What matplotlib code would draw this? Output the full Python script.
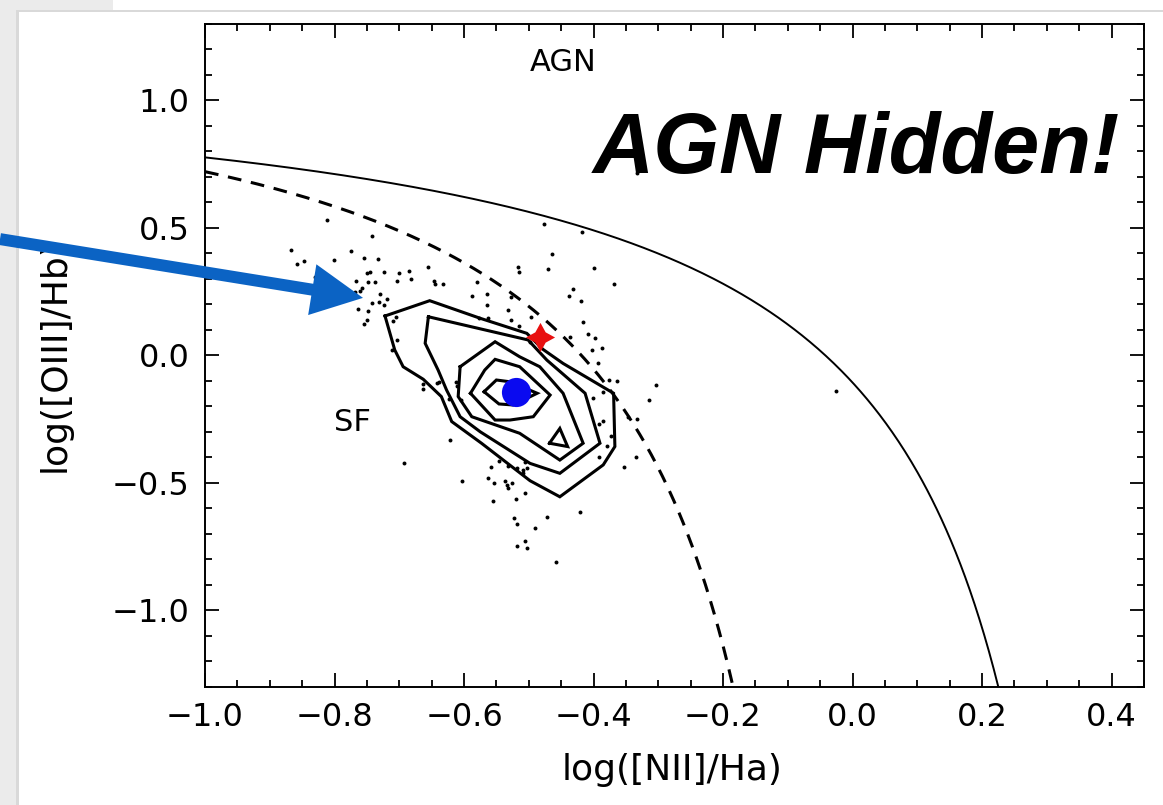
import matplotlib
matplotlib.use('Agg')
import matplotlib.pyplot as plt
from matplotlib.patches import Rectangle
from matplotlib.ticker import MultipleLocator
import numpy as np

# demarcation curves: y = a / (x - b) + c
kewley = (0.61, 0.47, 1.19)
kauffmann = (0.61, 0.05, 1.30)

# individual galaxies (log NII/Ha, log OIII/Hb)
dots_x = [-0.812, -0.867, -0.858, -0.847, -0.830, -0.801, -0.775, -0.754, -0.733, -0.742,
          -0.750, -0.745, -0.724, -0.700, -0.685, -0.656, -0.748, -0.738, -0.767, -0.704,
          -0.682, -0.646, -0.645, -0.632, -0.758, -0.761, -0.730, -0.742, -0.731, -0.719,
          -0.724, -0.764, -0.748, -0.750, -0.754, -0.705, -0.710, -0.704, -0.711, -0.476,
          -0.418, -0.464, -0.517, -0.515, -0.470, -0.399, -0.368, -0.580, -0.432, -0.438,
          -0.419, -0.588, -0.565, -0.527, -0.565, -0.532, -0.497, -0.527, -0.515, -0.416,
          -0.409, -0.398, -0.436, -0.402, -0.387, -0.577, -0.563, -0.498, -0.376, -0.364,
          -0.304, -0.314, -0.385, -0.347, -0.333, -0.333, -0.393, -0.401, -0.026, -0.392,
          -0.385, -0.373, -0.379, -0.392, -0.334, -0.353, -0.506, -0.503, -0.509, -0.509,
          -0.506, -0.421, -0.472, -0.490, -0.506, -0.503, -0.458, -0.663, -0.642, -0.639,
          -0.612, -0.611, -0.663, -0.623, -0.605, -0.622, -0.603, -0.558, -0.546, -0.532,
          -0.518, -0.563, -0.554, -0.537, -0.534, -0.532, -0.526, -0.555, -0.520, -0.523,
          -0.518, -0.518, -0.693, -0.768]
dots_y = [0.529, 0.412, 0.357, 0.369, 0.306, 0.373, 0.408, 0.380, 0.376, 0.467,
          0.322, 0.325, 0.325, 0.322, 0.329, 0.345, 0.286, 0.286, 0.290, 0.290,
          0.298, 0.290, 0.278, 0.278, 0.263, 0.251, 0.239, 0.204, 0.208, 0.220,
          0.196, 0.180, 0.173, 0.137, 0.122, 0.149, 0.133, 0.059, 0.020, 0.514,
          0.482, 0.396, 0.345, 0.325, 0.337, 0.341, 0.278, 0.286, 0.259, 0.231,
          0.212, 0.231, 0.239, 0.227, 0.196, 0.176, 0.149, 0.137, 0.114, 0.129,
          0.082, 0.067, 0.071, 0.020, 0.027, 0.145, 0.145, 0.051, -0.098, -0.102,
          -0.118, -0.176, -0.145, -0.243, -0.251, 0.714, -0.031, -0.169, -0.141, -0.271,
          -0.259, -0.318, -0.357, -0.400, -0.400, -0.439, -0.420, -0.443, -0.451, -0.463,
          -0.541, -0.616, -0.635, -0.678, -0.729, -0.757, -0.812, -0.114, -0.110, -0.106,
          -0.106, -0.122, -0.133, -0.173, -0.176, -0.333, -0.494, -0.439, -0.416, -0.435,
          -0.443, -0.482, -0.502, -0.494, -0.510, -0.522, -0.502, -0.573, -0.565, -0.639,
          -0.663, -0.749, -0.424, 0.247]

# density contours, outer to inner
contour1_x = [-0.722, -0.653, -0.575, -0.503, -0.478, -0.447, -0.369, -0.367, -0.385, -0.452,
              -0.498, -0.573, -0.619, -0.635, -0.663, -0.694, -0.707, -0.722]
contour1_y = [0.153, 0.213, 0.144, 0.085, 0.022, -0.033, -0.150, -0.359, -0.431, -0.556,
              -0.493, -0.346, -0.261, -0.163, -0.095, -0.046, 0.020, 0.153]
contour2_x = [-0.655, -0.501, -0.472, -0.413, -0.390, -0.452, -0.498, -0.575, -0.606, -0.627,
              -0.640, -0.660, -0.655]
contour2_y = [0.150, 0.059, -0.020, -0.150, -0.346, -0.464, -0.425, -0.301, -0.242, -0.137,
              -0.059, 0.046, 0.150]
contour3_x = [-0.606, -0.552, -0.514, -0.483, -0.447, -0.416, -0.452, -0.514, -0.588, -0.609, -0.606]
contour3_y = [-0.046, 0.052, -0.007, -0.046, -0.150, -0.346, -0.412, -0.307, -0.242, -0.163, -0.046]
contour4_x = [-0.590, -0.568, -0.552, -0.514, -0.467, -0.493, -0.529, -0.552, -0.590]
contour4_y = [-0.150, -0.059, -0.017, -0.046, -0.157, -0.242, -0.255, -0.255, -0.150]
contour5_x = [-0.569, -0.550, -0.529, -0.487, -0.524, -0.546, -0.569]
contour5_y = [-0.144, -0.098, -0.105, -0.150, -0.196, -0.192, -0.144]
contour6_x = [-0.468, -0.452, -0.440, -0.468]
contour6_y = [-0.346, -0.288, -0.359, -0.346]

blue_x, blue_y = -0.520, -0.144
star_x, star_y = -0.483, 0.071
arrow_tip = (-0.756, 0.224)

fig = plt.figure(figsize=(11.63, 8.05), dpi=100)
fig.patch.set_facecolor('#ebebeb')
# back card strip at top and front card
for rect in [Rectangle((113 / 1163, 1 - 10 / 805), 1, 10 / 805, facecolor='white'),
             Rectangle((16 / 1163, 0), 1, 1 - 10 / 805, facecolor='#d9d9d9'),
             Rectangle((19 / 1163, 0), 1, 1 - 12 / 805, facecolor='white')]:
    rect.set_transform(fig.transFigure)
    rect.set_edgecolor('none')
    rect.set_zorder(-10)
    fig.patches.append(rect)

ax = fig.add_axes([205 / 1163, 0.1472, 938.9 / 1163, 0.8236])
ax.set_zorder(5)
ax.set_xlim(-1.0, 0.45)
ax.set_ylim(-1.3, 1.3)

xs = np.linspace(-1.0, 0.465, 600)
ax.plot(xs, kewley[0] / (xs - kewley[1]) + kewley[2], color='black', lw=1.4)
xs2 = np.linspace(-1.0, 0.045, 600)
ax.plot(xs2, kauffmann[0] / (xs2 - kauffmann[1]) + kauffmann[2], color='black', lw=2.2,
        linestyle='--', dashes=(4.5, 3.2))

ax.scatter(dots_x, dots_y, s=8, color='black', linewidths=0, zorder=3)

for cx, cy in [(contour1_x, contour1_y), (contour2_x, contour2_y), (contour3_x, contour3_y),
               (contour4_x, contour4_y), (contour5_x, contour5_y), (contour6_x, contour6_y)]:
    ax.plot(cx, cy, color='black', lw=2.2, solid_joinstyle='miter', zorder=4)

ax.plot(blue_x, blue_y, 'o', color='#0a0af0', markersize=21, markeredgewidth=0, zorder=6)
ax.plot(star_x, star_y, marker=(4, 1, 0), color='#e81010', markersize=21,
        markeredgewidth=0, zorder=6)

ax.text(-0.447, 1.149, 'AGN', fontsize=22, ha='center', va='center')
ax.text(-0.773, -0.263, 'SF', fontsize=22, ha='center', va='center')
ax.text(-0.401, 0.715, 'AGN Hidden!', fontsize=61, fontweight='bold', fontstyle='italic',
        family='Liberation Sans', ha='left', va='baseline', zorder=7)

ax.xaxis.set_major_locator(MultipleLocator(0.2))
ax.xaxis.set_minor_locator(MultipleLocator(0.05))
ax.yaxis.set_major_locator(MultipleLocator(0.5))
ax.yaxis.set_minor_locator(MultipleLocator(0.1))
ax.tick_params(which='both', direction='in', top=True, right=True, width=1.3, labelsize=23)
ax.tick_params(which='major', length=10, pad=11)
ax.tick_params(which='minor', length=5)
for s in ax.spines.values():
    s.set_linewidth(1.4)

ax.set_xlabel('log([NII]/Ha)', fontsize=26)
ax.set_ylabel('log([OIII]/Hb)', fontsize=26)
ax.xaxis.set_label_coords(0.497, -0.126)
ax.xaxis.label.set_va('center')
ax.yaxis.set_label_coords(-0.160, 0.5)
ax.yaxis.label.set_va('center')

ax.annotate('', xy=arrow_tip, xycoords='data', xytext=(0.0, 0.703), textcoords='figure fraction',
            arrowprops=dict(arrowstyle='simple,head_length=3.7,head_width=3.7,tail_width=0.86',
                            color='#0b63c4', lw=0, shrinkA=0, shrinkB=0, mutation_scale=10),
            annotation_clip=False, zorder=10)

fig.savefig('out.png', dpi=100, facecolor=fig.get_facecolor())
